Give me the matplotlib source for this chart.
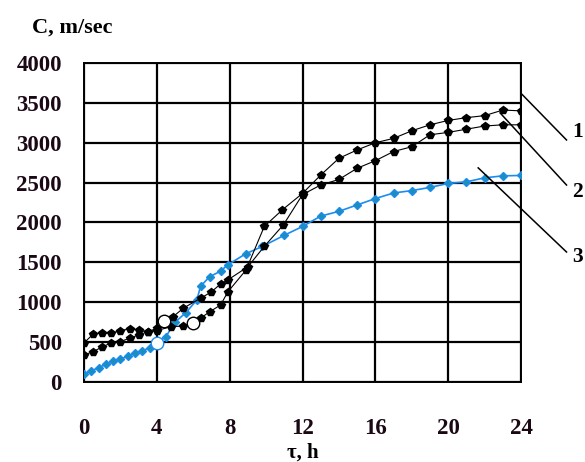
import matplotlib
matplotlib.use("Agg")
import matplotlib.pyplot as plt

# Sound velocity C (m/sec) vs hardening time tau (h) for three mixes
t1 = [0, 0.5, 1, 1.5, 2, 2.5, 3, 3.5, 4, 4.8, 5.45, 6, 6.4, 6.9, 7.5, 7.9,
      8.9, 9.9, 10.9, 12, 13, 14, 15, 16, 17, 18, 19, 20, 21, 22, 23, 24]
c1 = [490, 600, 615, 610, 645, 665, 650, 630, 645, 695, 700, 735, 800, 880, 965, 1130,
      1405, 1950, 2160, 2365, 2595, 2805, 2910, 3000, 3055, 3150, 3225, 3280, 3315, 3340, 3410, 3400]
open1 = [11]

t2 = [0, 0.5, 1, 1.5, 2, 2.5, 3, 3.5, 4, 4.4, 4.9, 5.45, 6.4, 7, 7.5, 7.9,
      9, 9.9, 10.95, 12, 13, 14, 15, 16, 17, 18, 19, 20, 21, 22, 23, 24]
c2 = [340, 380, 440, 490, 505, 550, 590, 630, 673, 770, 820, 925, 1050, 1130, 1230, 1280,
      1445, 1700, 1970, 2350, 2470, 2540, 2680, 2775, 2890, 2950, 3100, 3130, 3170, 3210, 3225, 3225]
open2 = [9]

t3 = [0, 0.4, 0.8, 1.2, 1.6, 2, 2.4, 2.8, 3.2, 3.6, 4, 4.5, 5, 5.6, 6.2, 6.4, 6.9, 7.5,
      7.9, 8.9, 9.8, 11, 12, 13, 14, 15, 16, 17, 18, 19, 20, 21, 22, 23, 24]
c3 = [100, 140, 180, 220, 260, 290, 320, 360, 390, 430, 490, 570, 750, 870, 1030, 1200, 1320, 1390,
      1470, 1610, 1700, 1840, 1950, 2080, 2140, 2220, 2300, 2370, 2400, 2440, 2490, 2510, 2560, 2585, 2590]
open3 = [10]

x_ticks = [0, 4, 8, 12, 16, 20, 24]
y_ticks = [0, 500, 1000, 1500, 2000, 2500, 3000, 3500, 4000]

plt.rcParams['font.family'] = ['Liberation Serif', 'DejaVu Serif']
plt.rcParams['font.weight'] = 'bold'

fig = plt.figure(figsize=(5.85, 4.62), dpi=100)
ax = fig.add_axes([0.1436, 0.1732, 0.747, 0.6904])

blue = '#1a8cf0'
ax.plot(t3, c3, color=blue, lw=1.2, marker='D', ms=4, mfc='#1b8fb8', mec=blue, zorder=3)
ax.plot(t2, c2, color='black', lw=0.8, marker='p', ms=6, mfc='black', mec='black', zorder=4)
ax.plot(t1, c1, color='black', lw=0.8, marker='p', ms=6, mfc='black', mec='black', zorder=4)

# open markers on a few points
for t, c, idx, col in [(t1, c1, open1, 'black'), (t2, c2, open2, 'black'), (t3, c3, open3, blue)]:
    ax.plot([t[i] for i in idx], [c[i] for i in idx], ls='none', marker='o', ms=9,
            mfc='white', mec=col, mew=1.0, zorder=5)

ax.set_xlim(0, 24)
ax.set_ylim(0, 4000)
ax.set_xticks(x_ticks)
ax.set_yticks(y_ticks)
ax.grid(True, color='black', lw=1.6)
ax.set_axisbelow(True)
for s in ax.spines.values():
    s.set_color('black')
    s.set_linewidth(1.4)
ax.tick_params(length=0, labelsize=16.5, pad=0)
ax.tick_params(axis='x', pad=26, colors='#1a0814')
ax.tick_params(axis='y', pad=16, colors='#1a0814')
for lab in ax.get_xticklabels() + ax.get_yticklabels():
    lab.set_fontweight('bold')

fig.text(0.055, 0.94, 'C, m/sec', fontsize=16, fontweight='bold', ha='left', va='center')
ax.set_xlabel('τ, h', fontsize=15, fontweight='bold', labelpad=0)
ax.xaxis.set_label_coords(0.5, -0.19)

# curve labels with leader lines
leaders = [('1', (24, 3620), (26.5, 3035), (27.1, 3140)),
           ('2', (22.85, 3375), (26.5, 2470), (27.1, 2380)),
           ('3', (21.65, 2685), (26.5, 1630), (27.1, 1570))]
for txt, p0, p1, pt in leaders:
    ax.plot([p0[0], p1[0]], [p0[1], p1[1]], color='black', lw=1.1, clip_on=False, zorder=6)
    ax.text(pt[0], pt[1], txt, fontsize=15.5, fontweight='bold', ha='center', va='center',
            clip_on=False)

fig.savefig('out.png', dpi=100)
